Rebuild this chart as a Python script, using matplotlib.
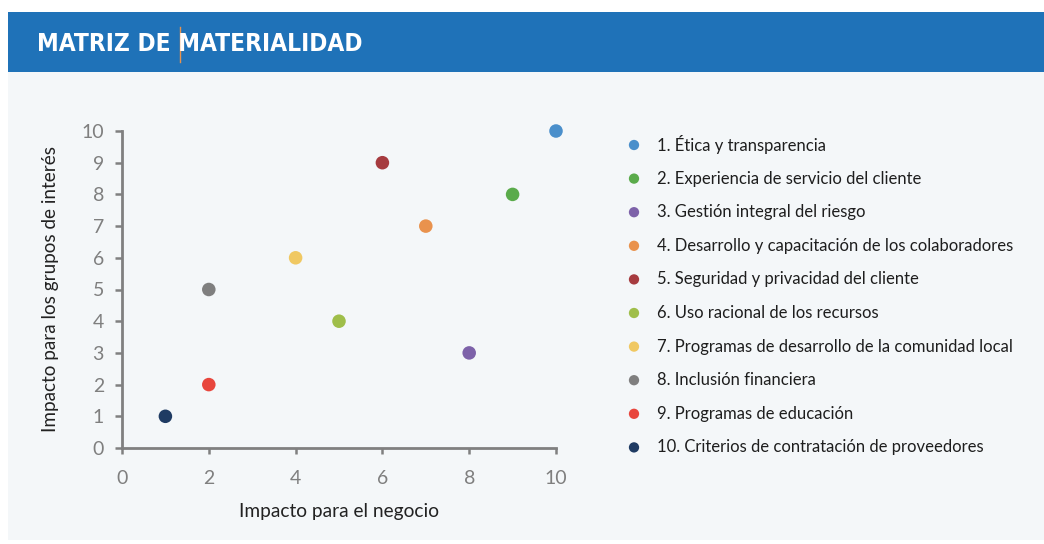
import matplotlib
matplotlib.use("Agg")
import matplotlib.pyplot as plt
from matplotlib.patches import Rectangle
from matplotlib.lines import Line2D

# datos de la matriz
temas = [
    "1. Ética y transparencia",
    "2. Experiencia de servicio del cliente",
    "3. Gestión integral del riesgo",
    "4. Desarrollo y capacitación de los colaboradores",
    "5. Seguridad y privacidad del cliente",
    "6. Uso racional de los recursos",
    "7. Programas de desarrollo de la comunidad local",
    "8. Inclusión financiera",
    "9. Programas de educación",
    "10. Criterios de contratación de proveedores",
]
impacto_negocio = [10, 9, 8, 7, 6, 5, 4, 2, 2, 1]
impacto_grupos = [10, 8, 3, 7, 9, 4, 6, 5, 2, 1]
colores = ["#4a8fcb", "#5aab4b", "#7d62a9", "#e9924d", "#a63b3f",
           "#9fbe4a", "#f0c862", "#7f7f7f", "#e8463d", "#1f3b63"]
ticks = [0, 2, 4, 6, 8, 10]
yticks = list(range(0, 11))

plt.rcParams['font.family'] = ['Lato', 'DejaVu Sans']

W, H = 1044, 544
fig = plt.figure(figsize=(W / 100, H / 100), dpi=100)
fig.patch.set_facecolor("white")

def fx(px):
    return px / W

def fy(py):
    return 1 - py / H

# fondo y cabecera
fig.add_artist(Rectangle((fx(8), fy(540)), fx(1044 - 8), (540 - 72) / H,
                         transform=fig.transFigure, facecolor="#f4f7f9",
                         edgecolor="none", zorder=-10))
fig.add_artist(Rectangle((fx(8), fy(72)), fx(1044 - 8), (72 - 12) / H,
                         transform=fig.transFigure, facecolor="#1f72b8",
                         edgecolor="none", zorder=-10))
fig.text(fx(37), fy(44), "MATRIZ DE MATERIALIDAD", color="white",
         fontsize=17.6, fontweight="bold", fontstretch="condensed",
         family=["DejaVu Sans"], va="center", ha="left")
fig.add_artist(Line2D([fx(180), fx(180)], [fy(27), fy(62)],
                      transform=fig.transFigure, color="#e8924d", lw=1))

# grafico de dispersion
ax = fig.add_axes([fx(122), fy(448), fx(556 - 122), (448 - 131) / H])
ax.set_facecolor("none")
ax.scatter(impacto_negocio, impacto_grupos, c=colores, s=95,
           clip_on=False, zorder=3, linewidths=0)
ax.set_xlim(0, 10)
ax.set_ylim(0, 10)
ax.set_xticks(ticks)
ax.set_yticks(yticks)
for s in ["top", "right"]:
    ax.spines[s].set_visible(False)
for s in ["left", "bottom"]:
    ax.spines[s].set_color("#808080")
    ax.spines[s].set_linewidth(2)
ax.tick_params(axis="y", direction="out", length=5, width=1.8,
               color="#808080", labelcolor="#7f7f7f", labelsize=14, pad=8)
ax.tick_params(axis="x", direction="out", length=4, width=1.8,
               color="#808080", labelcolor="#7f7f7f", labelsize=14, pad=12)
ax.set_xlabel("Impacto para el negocio", fontsize=13.8, color="#222222",
              labelpad=11)
ax.set_ylabel("Impacto para los grupos de interés", fontsize=13.6,
              color="#222222", labelpad=16)

# leyenda manual
lx = fig.add_axes([fx(620), fy(465), fx(1040 - 620), (465 - 128) / H])
lx.set_xlim(620, 1040)
lx.set_ylim(465, 128)
lx.axis("off")
filas = [145 + i * 33.6 for i in range(len(temas))]
lx.scatter([634] * len(temas), filas, c=colores, s=55, linewidths=0,
           clip_on=False)
for t, yy in zip(temas, filas):
    lx.text(657, yy, t, fontsize=12, color="#1e1e1e", va="center",
            ha="left")

fig.savefig("out.png", dpi=100, facecolor=fig.get_facecolor())
